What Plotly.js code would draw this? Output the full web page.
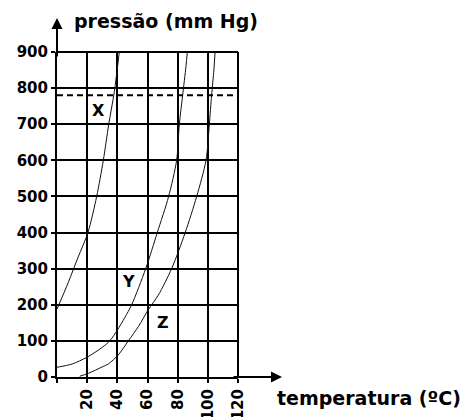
<!DOCTYPE html>
<html>
<head>
<meta charset="utf-8">
<script src="https://cdn.plot.ly/plotly-3.0.1.min.js"></script>
<style>html,body{margin:0;padding:0;background:#fff;}#chart{width:461px;height:417px;}</style>
</head>
<body>
<div id="chart"></div>
<script>
// Temperature (°C) / pressure (mm Hg) readings for each curve
const xTemp = [0, 7.5, 14, 20.5, 26.3, 30.7, 34.3, 38, 41.3];
const xPres = [188, 262, 332, 400, 500, 600, 700, 790, 900];

const yTemp = [0, 10, 20, 30, 35, 40, 45, 49.5, 58.8, 66.5, 74, 79.3, 81.1, 83.3, 85.5, 86.4];
const yPres = [27, 36, 55, 82, 100, 130, 165, 200, 300, 400, 500, 600, 700, 780, 860, 900];

const zTemp = [15, 20.7, 30, 34, 40.6, 47.3, 54, 60.5, 67.2, 76, 85, 92.6, 98.8, 101, 102.5, 104, 104.8];
const zPres = [2, 10, 28, 36, 61, 100, 140, 186, 227, 300, 400, 500, 600, 700, 780, 850, 900];

const refPressure = 780;
const xTickVals = [0, 20, 40, 60, 80, 100, 120];
const xTickText = ['', '20', '40', '60', '80', '100', '120'];
const yTickVals = [0, 100, 200, 300, 400, 500, 600, 700, 800, 900];

const curveLabels = [
  {text: 'X', t: 27.4, p: 739},
  {text: 'Y', t: 47.7, p: 264},
  {text: 'Z', t: 70.5, p: 150}
];

const boldFont = {family: 'DejaVu Sans', size: 15, color: '#000', weight: 'bold'};
const lineStyle = {color: '#111', width: 1, shape: 'spline', smoothing: 0.8};

const traces = [
  {x: xTemp, y: xPres, mode: 'lines', line: lineStyle, hoverinfo: 'skip'},
  {x: yTemp, y: yPres, mode: 'lines', line: lineStyle, hoverinfo: 'skip'},
  {x: zTemp, y: zPres, mode: 'lines', line: lineStyle, hoverinfo: 'skip'},
  {x: [0, 120], y: [refPressure, refPressure], mode: 'lines',
   line: {color: '#000', width: 2, dash: '6px,4px'}, hoverinfo: 'skip'}
];

const annotations = curveLabels.map(l => ({
  x: l.t, y: l.p, xref: 'x', yref: 'y', text: l.text, showarrow: false,
  font: {family: 'DejaVu Sans', size: 16, color: '#000', weight: 'bold'}
}));

annotations.push(
  {xref: 'paper', yref: 'paper', x: 0.083, y: 1.095, xanchor: 'left', yanchor: 'middle',
   text: 'pressão (mm Hg)', showarrow: false,
   font: {family: 'DejaVu Sans', size: 19, color: '#000', weight: 'bold'}},
  {xref: 'paper', yref: 'paper', x: 1.204, y: -0.065, xanchor: 'left', yanchor: 'middle',
   text: 'temperatura (ºC)', showarrow: false,
   font: {family: 'DejaVu Sans', size: 19, color: '#000', weight: 'bold'}},
  {xref: 'paper', yref: 'paper', x: 0, y: 1.1046, text: '', showarrow: true,
   ax: 0, ay: 40, arrowhead: 2, arrowsize: 1.1, arrowwidth: 2, arrowcolor: '#000'},
  {xref: 'paper', yref: 'paper', x: 1.243, y: 0, text: '', showarrow: true,
   ax: -50, ay: 0, arrowhead: 2, arrowsize: 1.1, arrowwidth: 2, arrowcolor: '#000'}
);

const shapes = [
  {type: 'line', xref: 'paper', yref: 'paper', x0: 1, x1: 1, y0: 0, y1: 1,
   line: {color: '#000', width: 2}, layer: 'above'},
  {type: 'line', xref: 'paper', yref: 'paper', x0: 0, x1: 1, y0: 1, y1: 1,
   line: {color: '#000', width: 2}, layer: 'above'}
];

const layout = {
  width: 461, height: 417,
  margin: {l: 57, r: 223, t: 52, b: 40, pad: 0},
  paper_bgcolor: '#fff', plot_bgcolor: '#fff',
  showlegend: false,
  xaxis: {
    range: [0, 120], tickvals: xTickVals, ticktext: xTickText, tickangle: -90,
    showgrid: true, gridcolor: '#000', gridwidth: 2, zeroline: false,
    showline: true, linecolor: '#000', linewidth: 2,
    ticks: 'outside', ticklen: 4, tickwidth: 2, tickcolor: '#000',
    tickfont: boldFont, fixedrange: true
  },
  yaxis: {
    range: [0, 900], tickvals: yTickVals,
    showgrid: true, gridcolor: '#000', gridwidth: 2, zeroline: false,
    showline: true, linecolor: '#000', linewidth: 2,
    ticks: 'outside', ticklen: 4, tickwidth: 2, tickcolor: '#000',
    tickfont: boldFont, fixedrange: true
  },
  shapes: shapes,
  annotations: annotations
};

Plotly.newPlot('chart', traces, layout, {displayModeBar: false, staticPlot: true});
</script>
</body>
</html>
